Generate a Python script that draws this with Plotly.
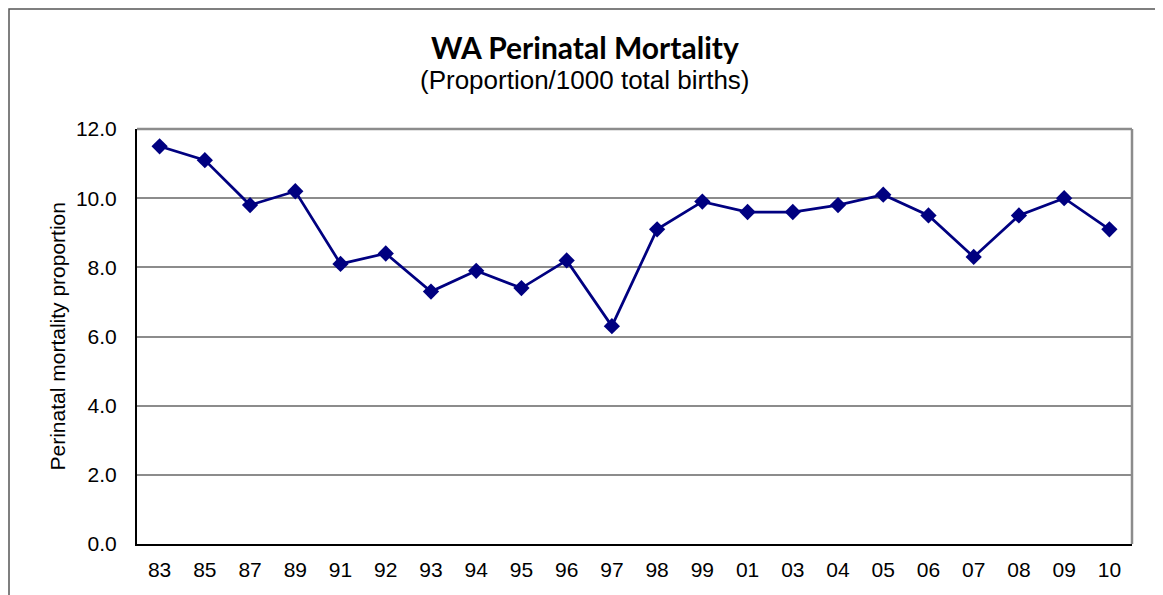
import plotly.graph_objects as go

years = ["83", "85", "87", "89", "91", "92", "93", "94", "95", "96", "97",
         "98", "99", "01", "03", "04", "05", "06", "07", "08", "09", "10"]
mortality = [11.5, 11.1, 9.8, 10.2, 8.1, 8.4, 7.3, 7.9, 7.4, 8.2, 6.3,
             9.1, 9.9, 9.6, 9.6, 9.8, 10.1, 9.5, 8.3, 9.5, 10.0, 9.1]
y_ticks = [0, 2, 4, 6, 8, 10, 12]

# page body has an 8px margin; figure is offset by (8, 8)
W, H = 1155, 587
L, R, T, B = 129, 31, 121, 51
PW, PH = W - L - R, H - T - B  # 995 x 415

fig = go.Figure()
fig.add_trace(go.Scatter(
    x=years, y=mortality, mode="lines+markers",
    line=dict(color="#000080", width=2.75),
    marker=dict(symbol="diamond", size=12.5, color="#000080"),
    showlegend=False,
))

fig.update_layout(
    width=W, height=H,
    margin=dict(l=L, r=R, t=T, b=B),
    paper_bgcolor="white", plot_bgcolor="white",
    font=dict(family="Liberation Sans, Arial, sans-serif", color="black"),
    xaxis=dict(
        type="category", range=[-0.5, len(years) - 0.5],
        showgrid=False, showline=True, linecolor="black",
        linewidth=2, tickfont=dict(size=21),
        ticks="", ticklabelstandoff=6, fixedrange=True,
    ),
    yaxis=dict(
        range=[0, 12], tickvals=y_ticks, tickformat=".1f",
        showgrid=True, gridcolor="#8c8c8c", gridwidth=2,
        showline=True, linecolor="black", linewidth=2,
        tickfont=dict(size=21), ticks="", ticklabelstandoff=14,
        zeroline=False, fixedrange=True,
    ),
    shapes=[
        dict(type="line", xref="paper", yref="paper", x0=0, x1=1, y0=1, y1=1,
             line=dict(color="#8c8c8c", width=2.5)),
        dict(type="line", xref="paper", yref="paper", x0=1, x1=1, y0=0, y1=1,
             line=dict(color="#8c8c8c", width=2.5)),
        dict(type="rect", xref="paper", yref="paper",
             x0=(1 - L) / PW, x1=(1153 - L) / PW,
             y0=-80 / PH, y1=(T + PH - 1) / PH,
             line=dict(color="#555555", width=1.5)),
    ],
    annotations=[
        dict(text="<b>WA Perinatal Mortality</b>", xref="paper", yref="paper",
             x=(577 - L) / PW, y=(T + PH - 39) / PH, showarrow=False,
             font=dict(family="Lato, Open Sans, sans-serif", size=30, color="black"),
             xanchor="center", yanchor="middle"),
        dict(text="(Proportion/1000 total births)", xref="paper", yref="paper",
             x=(577 - L) / PW, y=(T + PH - 72) / PH, showarrow=False,
             font=dict(size=26, color="black"),
             xanchor="center", yanchor="middle"),
        dict(text="Perinatal mortality proportion", xref="paper", yref="paper",
             x=(49 - L) / PW, y=0.5, showarrow=False, textangle=-90,
             font=dict(size=21, color="black"),
             xanchor="center", yanchor="middle"),
    ],
)

fig.write_html("out.html")
